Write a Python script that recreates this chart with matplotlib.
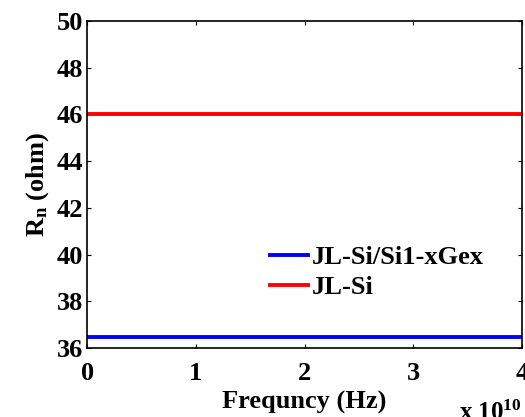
import matplotlib.pyplot as plt

# Data: noise resistance vs frequency (flat lines)
freq = [0, 4e10]
rn_sige = [36.5, 36.5]
rn_si = [46, 46]
x_ticks = [0, 1e10, 2e10, 3e10, 4e10]
x_tick_labels = ["0", "1", "2", "3", "4"]
y_ticks = [36, 38, 40, 42, 44, 46, 48, 50]

plt.rcParams["font.family"] = "Liberation Serif"
plt.rcParams["font.weight"] = "bold"
plt.rcParams["mathtext.fontset"] = "custom"
plt.rcParams["mathtext.rm"] = "Liberation Serif:bold"
plt.rcParams["mathtext.bf"] = "Liberation Serif:bold"
plt.rcParams["mathtext.it"] = "Liberation Serif:bold"

fig = plt.figure(figsize=(5.25, 4.17), dpi=100)
ax = fig.add_axes([0.166, 0.165, 0.828, 0.785])

ax.plot(freq, rn_sige, color="#0000ff", linewidth=2.8, label="JL-Si/Si1-xGex")
ax.plot(freq, rn_si, color="#ff0000", linewidth=2.8, label="JL-Si")

ax.set_xlim(0, 4e10)
ax.set_ylim(36, 50)
ax.set_xticks(x_ticks)
ax.set_xticklabels(x_tick_labels)
ax.set_yticks(y_ticks)

ax.tick_params(axis="both", direction="in", length=3, width=0.8,
               labelsize=19, top=True, right=True)
ax.tick_params(axis="x", pad=10)
ax.tick_params(axis="y", pad=3)
for lab in ax.get_xticklabels() + ax.get_yticklabels():
    lab.set_fontweight("bold")
for sp in ax.spines.values():
    sp.set_linewidth(1.2)

ax.set_xlabel("Frequncy (Hz)", fontsize=19, fontweight="bold", labelpad=4)
ax.set_ylabel(r"R$_\mathrm{n}$ (ohm)", fontsize=19, fontweight="bold", labelpad=4)

# Exponent label at the lower right
ax.text(1.0, -0.22, r"x 10$^{10}$", transform=ax.transAxes, ha="right",
        va="baseline", fontsize=18, fontweight="bold")

ax.legend(loc="center left", bbox_to_anchor=(0.42, 0.232), frameon=False,
          prop={"size": 19, "weight": "bold"}, handlelength=1.45,
          handletextpad=0.15, labelspacing=0.25, borderpad=0,
          borderaxespad=0)

fig.savefig("out.png", dpi=100)
